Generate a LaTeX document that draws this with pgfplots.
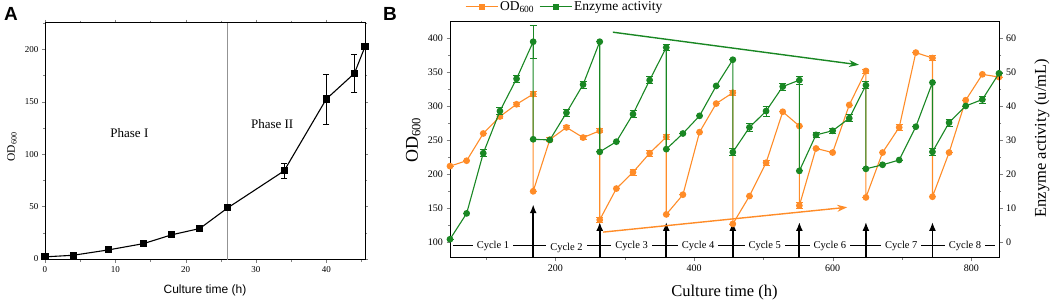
\documentclass[border=0pt]{standalone}
\usepackage{fontspec}
\setmainfont{Liberation Serif}
\newfontfamily\arial{Liberation Sans}
\usepackage{pgfplots}
\usepackage{pgfplotstable}
\pgfplotsset{compat=1.18}
\usetikzlibrary{arrows.meta}
\definecolor{odc}{RGB}{255,140,40}
\definecolor{enc}{RGB}{25,135,35}

\pgfplotstableread{
x y e
0 2 1
4 3.5 1
9 8.6 1
14 14.6 1
18 23 1.5
22 29 1.5
26 48.8 2
34 84 7.5
40 152.5 24
44 177 18.5
45.5 202.5 3
}\dataA

\pgfplotstableread{
x y e
48 212 0
72 220 0
96 260 0
120 285 3
144 303 3
168 318 4
168 175 0
192 251 3
216 269 3
240 254 3
264 264 3
264 133 4
288 179 0
312 203 4
336 231 4
360 255 4
360 141 0
384 170 0
408 262 0
432 304 0
456 320 4
456 127 0
480 168 0
504 217 4
528 292 0
552 271 0
552 154 4
576 238 0
600 232 0
624 302 0
648 352 3
648 166 0
672 232 0
696 269 4
720 379 0
744 371 4
744 167 0
768 232 0
792 309 0
816 347 0
840 343 0
}\dataOD

\pgfplotstableread{
x y e
48 0.9 0
72 8.5 0
96 26.2 1
120 38.6 1
144 48.1 1
168 59 4.9
168 30.3 0
192 30.1 0
216 38.1 1
240 46.4 1
264 59 0
264 26.6 0
288 29.6 0
312 37.7 1
336 47.7 1
360 57.3 1
360 27.4 0
384 32 0
408 37.2 0
432 46 0
456 53.7 0
456 26.5 1
480 33.8 1.2
504 38.6 1.5
528 45.8 1
552 47.7 1.2
552 21 0
576 31.6 0.7
600 32.8 0.7
624 36.5 1
648 46.2 1
648 21.6 0
672 22.8 0
696 24.2 0
720 34 0
744 47 0
744 26.6 1
768 35.2 1
792 40.1 0
816 42 1
840 49.7 0
}\dataEN

\begin{document}
\begin{tikzpicture}
\path[use as bounding box] (0pt,0pt) rectangle (1052pt,304pt);

\node[font=\arial\bfseries\fontsize{19}{20}\selectfont] at (11pt,290pt) {A};
\node[font=\arial\bfseries\fontsize{19}{20}\selectfont] at (390pt,290pt) {B};

% ---------------- Panel A ----------------
\begin{axis}[
  at={(45pt,44pt)}, anchor=south west,
  scale only axis, width=320pt, height=237pt,
  xmin=0, xmax=45.5, ymin=-1, ymax=225,
  clip=false,
  xtick={0,10,...,40}, minor xtick={5,15,...,45},
  ytick={0,50,...,200}, minor ytick={25,75,...,225},
  tick align=outside, major tick length=3pt, minor tick length=2pt,
  /pgf/number format/assume math mode=true,
  ticklabel style={font=\fontsize{9}{10}\selectfont},
  xlabel={\arial\fontsize{12}{14}\selectfont Culture time (h)},
  xlabel style={at={(axis description cs:0.5,-0.127)}, anchor=center},
  ylabel={\fontsize{11.5}{13}\selectfont OD\textsubscript{600}},
  ylabel style={at={(axis description cs:-0.103,0.477)}, anchor=center},
  axis line style={line width=1pt},
]
\addplot[gray!85, line width=1pt] coordinates {(26,-1) (26,225)};
\addplot[black, line width=1.1pt, mark=square*, mark size=3pt,
  error bars/.cd, y dir=both, y explicit,
  error bar style={line width=0.7pt},
  error mark options={rotate=90, mark size=3pt, line width=0.7pt}]
  table[x=x, y=y, y error=e] {\dataA};
\node[font=\fontsize{13}{15}\selectfont] at (axis cs:12,120) {Phase I};
\node[font=\fontsize{13}{15}\selectfont] at (axis cs:32.3,129) {Phase II};
\end{axis}

% ---------------- Panel B (left axis: OD600) ----------------
\begin{axis}[
  at={(450pt,46pt)}, anchor=south west,
  scale only axis, width=549pt, height=236pt,
  xmin=48, xmax=840, ymin=76.9, ymax=424,
  clip=false,
  xtick={200,400,600,800}, minor xtick={100,300,500,700},
  ytick={100,150,...,400}, minor ytick={125,175,...,425},
  xtick pos=left, ytick pos=left,
  tick align=outside, major tick length=3.5pt, minor tick length=2pt,
  /pgf/number format/assume math mode=true,
  ticklabel style={font=\fontsize{10}{12}\selectfont},
  xlabel={\fontsize{16.5}{18}\selectfont Culture time (h)},
  xlabel style={at={(axis description cs:0.5,-0.148)}, anchor=center},
  ylabel={\fontsize{18}{20}\selectfont OD\textsubscript{600}},
  ylabel style={at={(axis description cs:-0.067,0.5)}, anchor=center},
  axis line style={line width=1pt},
]
\addplot[odc, line width=1.1pt, mark=*, mark size=2.8pt, mark options={solid, fill=odc},
  error bars/.cd, y dir=both, y explicit,
  error bar style={line width=0.8pt, odc},
  error mark options={rotate=90, mark size=3.5pt, line width=0.8pt, odc}]
  table[x=x, y=y, y error=e] {\dataOD};
% cycle line
\addplot[black, line width=1.1pt] coordinates {(52,95) (834,95)};
\foreach \cx/\cy/\cn in {110/94/1, 216/91/2, 310/94/3, 406/94/4, 502/94/5, 596/94/6, 699/94/7, 791/94/8}{
  \edef\temp{\noexpand\node[fill=white, inner xsep=4pt, inner ysep=1pt, font=\noexpand\fontsize{10.5}{12}\noexpand\selectfont] at (axis cs:\cx,\cy) {Cycle \cn};}
  \temp
}
% black arrows
\addplot[black, line width=1.8pt, -{Latex[length=9pt,width=7pt]}] coordinates {(168,76.9) (168,156)};
\addplot[black, line width=1.8pt, -{Latex[length=9pt,width=7pt]}] coordinates {(264,76.9) (264,130)};
\addplot[black, line width=1.8pt, -{Latex[length=9pt,width=7pt]}] coordinates {(360,76.9) (360,130)};
\addplot[black, line width=1.8pt, -{Latex[length=9pt,width=7pt]}] coordinates {(456,76.9) (456,130)};
\addplot[black, line width=1.8pt, -{Latex[length=9pt,width=7pt]}] coordinates {(552,76.9) (552,130)};
\addplot[black, line width=1.8pt, -{Latex[length=9pt,width=7pt]}] coordinates {(648,76.9) (648,130)};
\addplot[black, line width=1.8pt, -{Latex[length=9pt,width=7pt]}] coordinates {(744,76.9) (744,130)};
% trend arrows
\addplot[enc, line width=1.4pt, -{Stealth[length=10pt,width=7pt]}] coordinates {(283,409) (638,361)};
\addplot[odc, line width=1.4pt, -{Stealth[length=10pt,width=7pt]}] coordinates {(269,115) (621,151.5)};
\end{axis}

% ---------------- Panel B (right axis: enzyme activity) ----------------
\begin{axis}[
  at={(450pt,46pt)}, anchor=south west,
  scale only axis, width=549pt, height=236pt,
  xmin=48, xmax=840, ymin=-4.62, ymax=64.8,
  clip=false,
  axis y line*=right, axis x line=none,
  ytick={0,10,...,60}, minor ytick={5,15,...,55},
  tick align=outside, major tick length=3.5pt, minor tick length=2pt,
  /pgf/number format/assume math mode=true,
  ticklabel style={font=\fontsize{10}{12}\selectfont},
  ylabel={\fontsize{16.5}{18}\selectfont Enzyme activity (u/mL)},
  ylabel style={at={(axis description cs:1.078,0.508)}, anchor=center},
  axis line style={line width=1pt},
  legend style={at={(axis description cs:0.027,1.064)}, anchor=west,
    draw=none, fill=none, font=\fontsize{13.5}{15}\selectfont,
    legend columns=2, inner sep=0pt,
    /tikz/every even column/.append style={column sep=3pt}},
  legend image code/.code={\draw[mark repeat=2, mark phase=2, #1] plot coordinates {(0pt,0pt) (16pt,0pt) (32pt,0pt)};},
]
\addlegendimage{odc, line width=1pt, mark=square*, mark size=2.5pt, mark options={fill=odc}}
\addlegendentry{OD\textsubscript{600}}
\addlegendimage{enc, line width=1pt, mark=square*, mark size=2.5pt, mark options={fill=enc}}
\addlegendentry{Enzyme activity}
\addplot[enc, line width=1.1pt, mark=*, mark size=2.8pt, mark options={solid, fill=enc}, forget plot,
  error bars/.cd, y dir=both, y explicit,
  error bar style={line width=0.8pt, enc},
  error mark options={rotate=90, mark size=3.5pt, line width=0.8pt, enc}]
  table[x=x, y=y, y error=e] {\dataEN};
\end{axis}
\end{tikzpicture}
\end{document}
